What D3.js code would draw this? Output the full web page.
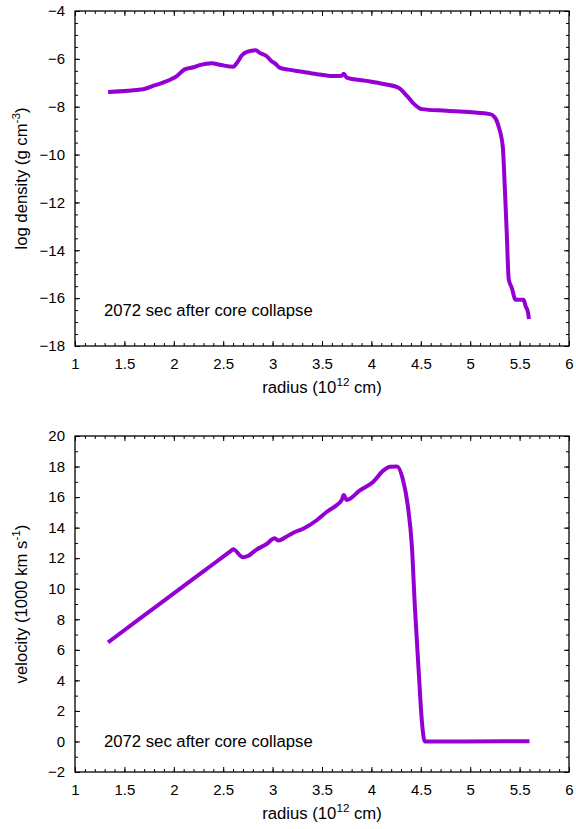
<!DOCTYPE html>
<html>
<head>
<meta charset="utf-8">
<script src="https://cdn.jsdelivr.net/npm/d3@7"></script>
<style>
  body { margin: 0; background: #fff; }
  .viz text { font-family: "Liberation Sans", Arial, sans-serif; fill: #000; }
  .axis path { display: none; }
  .axis line { stroke: #000; stroke-width: 1; }
</style>
</head>
<body>
<svg class="viz" width="576" height="829"></svg>
<script>
// data
var radiusDensity = [1.335, 1.69, 1.79, 1.89, 2.03, 2.11, 2.20, 2.27, 2.38, 2.48, 2.60, 2.64, 2.69, 2.74, 2.83, 2.87, 2.94, 2.99, 3.03, 3.07, 3.16, 3.28, 3.45, 3.61, 3.70, 3.72, 3.75, 3.95, 4.12, 4.27, 4.36, 4.44, 4.51, 4.76, 5.20, 5.25, 5.29, 5.33, 5.35, 5.37, 5.39, 5.42, 5.46, 5.54, 5.56, 5.585, 5.595];
var logDensity = [-7.38, -7.27, -7.13, -6.99, -6.72, -6.44, -6.35, -6.25, -6.18, -6.26, -6.33, -6.16, -5.85, -5.71, -5.64, -5.75, -5.89, -6.10, -6.21, -6.37, -6.45, -6.53, -6.64, -6.72, -6.71, -6.62, -6.78, -6.92, -7.05, -7.20, -7.55, -7.92, -8.10, -8.17, -8.31, -8.45, -8.86, -9.69, -11.35, -13.28, -15.21, -15.56, -16.07, -16.07, -16.32, -16.60, -16.87];

var radiusVelocity = [1.335, 1.70, 2.00, 2.30, 2.50, 2.575, 2.60, 2.70, 2.75, 2.83, 2.94, 3.02, 3.06, 3.13, 3.21, 3.31, 3.45, 3.55, 3.65, 3.70, 3.72, 3.75, 3.88, 4.02, 4.12, 4.19, 4.26, 4.32, 4.37, 4.41, 4.44, 4.48, 4.51, 4.54, 4.93, 5.60];
var velocity = [6.49, 8.25, 9.70, 11.14, 12.10, 12.46, 12.58, 12.06, 12.14, 12.53, 12.93, 13.30, 13.15, 13.37, 13.67, 13.93, 14.50, 15.04, 15.48, 15.81, 16.14, 15.81, 16.42, 17.01, 17.73, 17.99, 18.0, 17.12, 15.37, 12.75, 8.82, 4.46, 1.40, 0.0, 0.0, 0.02];

var xTicks = [1, 1.5, 2, 2.5, 3, 3.5, 4, 4.5, 5, 5.5, 6];
var densityTicks = [-18, -16, -14, -12, -10, -8, -6, -4];
var velocityTicks = [-2, 0, 2, 4, 6, 8, 10, 12, 14, 16, 18, 20];
var note = "2072 sec after core collapse";

var svg = d3.select(".viz");
var left = 75, right = 569;
var lineColor = "#9400d3";

var makePanel = function (opts) {
  var xScale = d3.scaleLinear().domain([1, 6]).range([left, right]);
  var yScale = d3.scaleLinear().domain(opts.yDomain).range([opts.bottom, opts.top]);
  var h = opts.bottom - opts.top, w = right - left;

  var xMinor = d3.range(10, 61).map(function (d) { return d / 10; });
  var yMinor = d3.range(opts.yDomain[0], opts.yDomain[1] + 1e-9, opts.yMinorStep);

  var g = svg.append("g");

  // minor ticks, all four sides
  g.append("g").attr("class", "axis").attr("transform", "translate(0," + opts.bottom + ")")
    .call(d3.axisBottom(xScale).tickValues(xMinor).tickSizeInner(-3).tickSizeOuter(0).tickFormat(""));
  g.append("g").attr("class", "axis").attr("transform", "translate(0," + opts.top + ")")
    .call(d3.axisTop(xScale).tickValues(xMinor).tickSizeInner(-3).tickSizeOuter(0).tickFormat(""));
  g.append("g").attr("class", "axis").attr("transform", "translate(" + left + ",0)")
    .call(d3.axisLeft(yScale).tickValues(yMinor).tickSizeInner(-3).tickSizeOuter(0).tickFormat(""));
  g.append("g").attr("class", "axis").attr("transform", "translate(" + right + ",0)")
    .call(d3.axisRight(yScale).tickValues(yMinor).tickSizeInner(-3).tickSizeOuter(0).tickFormat(""));

  // major ticks with labels
  var xAxis = g.append("g").attr("class", "axis").attr("transform", "translate(0," + opts.bottom + ")")
    .call(d3.axisBottom(xScale).tickValues(xTicks).tickSizeInner(-5).tickSizeOuter(0).tickPadding(12).tickFormat(d3.format("")));
  g.append("g").attr("class", "axis").attr("transform", "translate(0," + opts.top + ")")
    .call(d3.axisTop(xScale).tickValues(xTicks).tickSizeInner(-5).tickSizeOuter(0).tickFormat(""));
  var yAxis = g.append("g").attr("class", "axis").attr("transform", "translate(" + left + ",0)")
    .call(d3.axisLeft(yScale).tickValues(opts.yTicks).tickSizeInner(-5).tickSizeOuter(0).tickPadding(10).tickFormat(d3.format("")));
  g.append("g").attr("class", "axis").attr("transform", "translate(" + right + ",0)")
    .call(d3.axisRight(yScale).tickValues(opts.yTicks).tickSizeInner(-5).tickSizeOuter(0).tickFormat(""));

  xAxis.selectAll("text").attr("font-size", "15px").attr("font-family", "Liberation Sans, Arial, sans-serif");
  yAxis.selectAll("text").attr("font-size", "15px").attr("font-family", "Liberation Sans, Arial, sans-serif");

  // frame
  g.append("rect")
    .attr("x", left).attr("y", opts.top)
    .attr("width", w).attr("height", h)
    .attr("fill", "none").attr("stroke", "#000").attr("stroke-width", 1.3);

  // curve
  var line = d3.line()
    .x(function (d) { return xScale(d[0]); })
    .y(function (d) { return yScale(d[1]); })
    .curve(d3.curveMonotoneX);

  g.append("path")
    .datum(d3.zip(opts.xs, opts.ys))
    .attr("d", line)
    .attr("fill", "none")
    .attr("stroke", lineColor)
    .attr("stroke-width", 4)
    .attr("stroke-linejoin", "round");

  // annotation
  g.append("text")
    .attr("x", 104)
    .attr("y", yScale(opts.noteY))
    .attr("dy", "0.35em")
    .attr("font-size", "16.7px")
    .text(note);

  // x label
  var xl = g.append("text")
    .attr("x", (left + right) / 2)
    .attr("y", opts.bottom + 47)
    .attr("text-anchor", "middle")
    .attr("font-size", "16.7px");
  xl.append("tspan").text("radius (10");
  xl.append("tspan").attr("dy", -7).attr("font-size", "11.7px").text("12");
  xl.append("tspan").attr("dy", 7).text(" cm)");

  // y label
  var yl = g.append("text")
    .attr("transform", "translate(27," + ((opts.top + opts.bottom) / 2) + ") rotate(-90)")
    .attr("text-anchor", "middle")
    .attr("font-size", "16.7px");
  yl.append("tspan").text(opts.yLabel[0]);
  yl.append("tspan").attr("dy", -7).attr("font-size", "11.7px").text(opts.yLabel[1]);
  yl.append("tspan").attr("dy", 7).text(opts.yLabel[2]);
};

makePanel({
  top: 11, bottom: 346,
  yDomain: [-18, -4], yMinorStep: 0.5, yTicks: densityTicks,
  xs: radiusDensity, ys: logDensity,
  noteY: -16.5,
  yLabel: ["log density (g cm", "-3", ")"]
});

makePanel({
  top: 436, bottom: 772,
  yDomain: [-2, 20], yMinorStep: 1, yTicks: velocityTicks,
  xs: radiusVelocity, ys: velocity,
  noteY: 0,
  yLabel: ["velocity (1000 km s", "-1", ")"]
});
</script>
</body>
</html>
